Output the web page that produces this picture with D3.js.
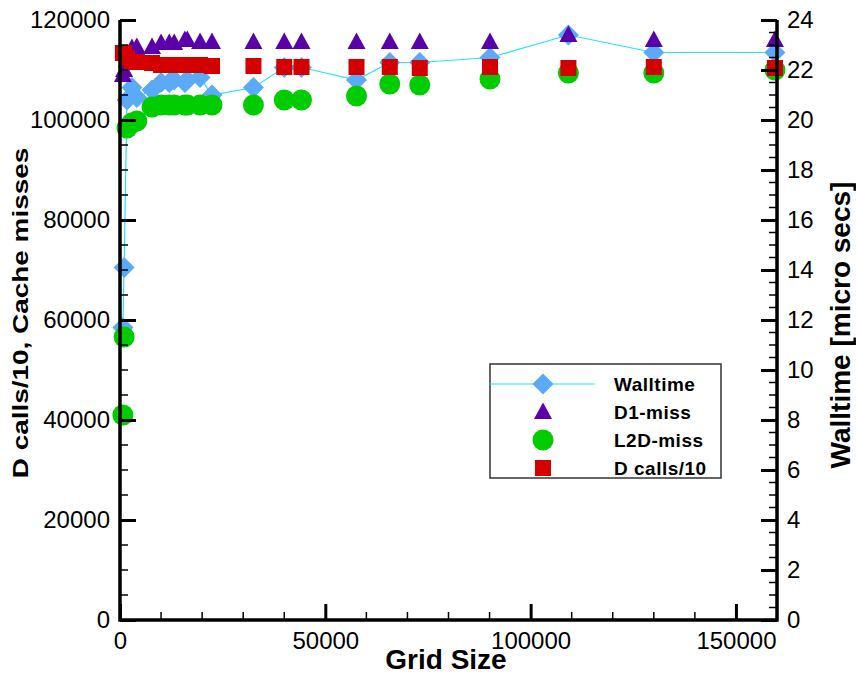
<!DOCTYPE html>
<html>
<head>
<meta charset="utf-8">
<script src="https://cdn.jsdelivr.net/npm/d3@7"></script>
<style>
  html, body { margin: 0; padding: 0; background: #fff; }
  svg { display: block; }
  text { font-family: "Liberation Sans", Arial, sans-serif; }
</style>
</head>
<body>
<svg id="chart" width="856" height="677"></svg>
<script>
// Grid sizes shared by every series
const gridSize = [700, 1000, 1700, 2900, 4100, 7800, 10000, 12000, 13200, 15800, 16400,
  19500, 22400, 32500, 40000, 44200, 57600, 65700, 73000, 90100, 109200, 130000, 159500];

// Walltime [micro secs] (right axis)
const walltime = [11.7, 14.1, 20.8, 21.3, 20.9, 21.2, 21.5, 21.5, 21.6, 21.5, 21.6,
  21.7, 21.0, 21.3, 22.1, 22.1, 21.6, 22.3, 22.3, 22.5, 23.4, 22.7, 22.7];

// D1 cache misses (left axis)
const d1Miss = [109000, 110000, 112000, 114400, 114600, 114600, 115400, 115400, 115400, 116000, 116000,
  115600, 115600, 115600, 115600, 115600, 115600, 115600, 115600, 115600, 117000, 116000, 116000];

// L2D cache misses (left axis)
const l2dMiss = [41000, 56600, 98400, 99400, 99800, 102600, 103000, 103000, 103000, 103000, 103000,
  103000, 103000, 103000, 104000, 104000, 104800, 107200, 107000, 108200, 109400, 109400, 110000];

// D calls / 10 (left axis)
const dCalls = [113400, 113400, 112400, 111600, 111600, 111400, 111000, 111000, 111000, 111000, 111000,
  111000, 110800, 110800, 110600, 110600, 110600, 110600, 110400, 110600, 110400, 110600, 110400];

const xTicks = [0, 50000, 100000, 150000];
const yLeftTicks = [0, 20000, 40000, 60000, 80000, 100000, 120000];
const yRightTicks = [0, 2, 4, 6, 8, 10, 12, 14, 16, 18, 20, 22, 24];

const legendItems = [
  { key: "walltime", label: "Walltime" },
  { key: "d1", label: "D1-miss" },
  { key: "l2d", label: "L2D-miss" },
  { key: "calls", label: "D calls/10" }
];

const colors = {
  line: "#22e6f0",
  walltime: "#5aaaf8",
  d1: "#5a00aa",
  l2d: "#00cc00",
  calls: "#d40000"
};

// Marker shapes
const shapes = {
  walltime: "M0,-10.5L10.5,0L0,10.5L-10.5,0Z",
  d1: "M0,-9.5L9,7L-9,7Z",
  calls: "M-8,-8H8V8H-8Z"
};

const svg = d3.select("#chart");
const plotL = 120, plotR = 777, plotT = 20, plotB = 620;

const x = d3.scaleLinear().domain([0, 160000]).range([plotL, plotR]);
const yL = d3.scaleLinear().domain([0, 120000]).range([plotB, plotT]);
const yR = d3.scaleLinear().domain([0, 24]).range([plotB, plotT]);

function drawMarker(g, key, cx, cy) {
  if (key === "l2d") {
    g.append("circle").attr("cx", cx).attr("cy", cy).attr("r", 10.5).attr("fill", colors.l2d);
  } else {
    g.append("path").attr("d", shapes[key]).attr("transform", `translate(${cx},${cy})`)
      .attr("fill", colors[key]);
  }
}

// Walltime line
const pts = gridSize.map((g, i) => [g, walltime[i]]);
svg.append("path")
  .datum(pts)
  .attr("fill", "none")
  .attr("stroke", colors.line)
  .attr("stroke-width", 1.2)
  .attr("d", d3.line().x(d => x(d[0])).y(d => yR(d[1])));

const marks = svg.append("g");
gridSize.forEach((g, i) => drawMarker(marks, "walltime", x(g), yR(walltime[i])));
gridSize.forEach((g, i) => drawMarker(marks, "d1", x(g), yL(d1Miss[i])));
gridSize.forEach((g, i) => drawMarker(marks, "l2d", x(g), yL(l2dMiss[i])));
gridSize.forEach((g, i) => drawMarker(marks, "calls", x(g), yL(dCalls[i])));

// Axes (ticks pointing inward)
const axisStyle = sel => {
  sel.select(".domain").remove();
  sel.selectAll("text").style("font-size", "24px").attr("fill", "#000");
};

const xMinor = d3.range(0, 160001, 10000).filter(v => v % 50000 !== 0);
const gx = svg.append("g").attr("transform", `translate(0,${plotB})`)
  .call(d3.axisBottom(x).tickValues(xTicks).tickSize(-16).tickPadding(24).tickFormat(d3.format("d")));
axisStyle(gx);
gx.selectAll("line").attr("stroke", "#000").attr("stroke-width", 3);
gx.selectAll("text").attr("dy", "0.2em");
svg.append("g").attr("transform", `translate(0,${plotB})`)
  .selectAll("line").data(xMinor).join("line")
  .attr("x1", d => x(d)).attr("x2", d => x(d)).attr("y1", 0).attr("y2", -8)
  .attr("stroke", "#000").attr("stroke-width", 1.5);

const yMinor = d3.range(0, 120001, 5000).filter(v => v % 20000 !== 0);
const gyl = svg.append("g").attr("transform", `translate(${plotL},0)`)
  .call(d3.axisLeft(yL).tickValues(yLeftTicks).tickSize(-16).tickPadding(10).tickFormat(d3.format("d")));
axisStyle(gyl);
gyl.selectAll("line").attr("stroke", "#000").attr("stroke-width", 3);
svg.append("g").attr("transform", `translate(${plotL},0)`)
  .selectAll("line").data(yMinor).join("line")
  .attr("y1", d => yL(d)).attr("y2", d => yL(d)).attr("x1", 0).attr("x2", 8)
  .attr("stroke", "#000").attr("stroke-width", 1.5);

const rMinor = d3.range(0, 24.01, 0.5).filter(v => v % 2 !== 0);
const gyr = svg.append("g").attr("transform", `translate(${plotR},0)`)
  .call(d3.axisRight(yR).tickValues(yRightTicks).tickSize(-16).tickPadding(10).tickFormat(d3.format("d")));
axisStyle(gyr);
gyr.selectAll("line").attr("stroke", "#000").attr("stroke-width", 3);
svg.append("g").attr("transform", `translate(${plotR},0)`)
  .selectAll("line").data(rMinor).join("line")
  .attr("y1", d => yR(d)).attr("y2", d => yR(d)).attr("x1", 0).attr("x2", -8)
  .attr("stroke", "#000").attr("stroke-width", 1.5);

// Axis lines: left, bottom, right
svg.append("path")
  .attr("d", `M${plotL},${plotT}V${plotB}H${plotR}V${plotT}`)
  .attr("fill", "none").attr("stroke", "#000").attr("stroke-width", 3.5);

// Axis titles
svg.append("text").attr("x", 446).attr("y", 669).attr("text-anchor", "middle")
  .style("font-size", "28px").style("font-weight", "bold").text("Grid Size");
svg.append("text").attr("transform", "translate(28,313) rotate(-90) scale(1.27,1)").attr("text-anchor", "middle")
  .style("font-size", "22px").style("font-weight", "bold").text("D calls/10, Cache misses");
svg.append("text").attr("transform", "translate(850,325) rotate(-90)").attr("text-anchor", "middle")
  .style("font-size", "28px").style("font-weight", "bold").text("Walltime [micro secs]");

// Legend
const lg = svg.append("g");
lg.append("rect").attr("x", 490).attr("y", 364).attr("width", 231).attr("height", 114)
  .attr("fill", "#fff").attr("stroke", "#333").attr("stroke-width", 1.5);
legendItems.forEach((item, i) => {
  const cy = 384 + i * 28;
  if (item.key === "walltime") {
    lg.append("line").attr("x1", 490).attr("x2", 595).attr("y1", cy).attr("y2", cy)
      .attr("stroke", colors.line).attr("stroke-width", 1.2);
  }
  drawMarker(lg, item.key, 543, cy);
  lg.append("text").attr("x", 614).attr("y", cy).attr("dy", "0.36em")
    .style("font-size", "19px").style("font-weight", "bold").style("letter-spacing", "0.5px")
    .text(item.label);
});
</script>
</body>
</html>
